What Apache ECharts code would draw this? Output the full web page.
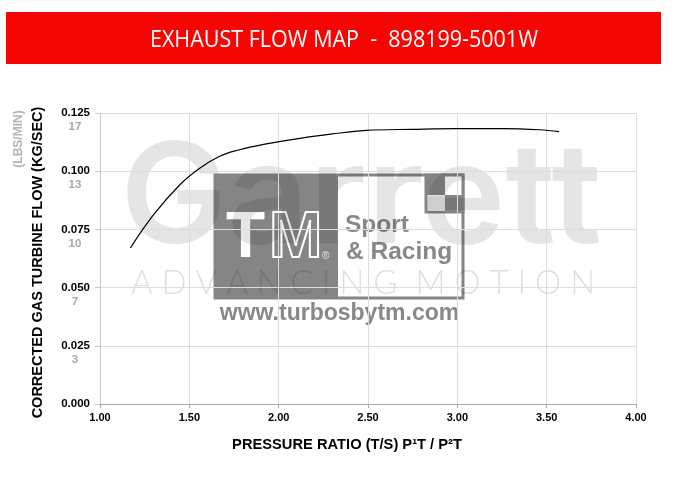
<!DOCTYPE html>
<html>
<head>
<meta charset="utf-8">
<style>html,body{margin:0;padding:0;background:#fff}#c{width:677px;height:500px}</style>
<script src="https://cdn.jsdelivr.net/npm/echarts@6/dist/echarts.min.js"></script>
</head>
<body>
<div id="c"></div>
<script>
const pressureRatio = [1.17,1.30,1.447,1.56,1.67,1.765,1.93,2.12,2.30,2.49,2.75,3.00,3.26,3.46,3.57];
const turbineFlow = [0.067,0.0813,0.0942,0.1014,0.1064,0.1089,0.1117,0.1141,0.116,0.1175,0.118,0.1183,0.1183,0.1178,0.117];
const kgTicks = ['0.000','0.025','0.050','0.075','0.100','0.125'];
const lbsTicks = ['','3','7','10','13','17'];
const titleText = 'EXHAUST FLOW MAP  -  898199-5001W';
const xName = 'PRESSURE RATIO (T/S) P¹T / P²T';
const yName = 'CORRECTED GAS TURBINE FLOW (KG/SEC)';
const yName2 = '(LBS/MIN)';

const chart = echarts.init(document.getElementById('c'), null, {renderer:'canvas'});
const sans = '"Liberation Sans", Arial, sans-serif';
const grey = '#888888';
const R = (x,y,w,h,fill,stroke,lw) => ({type:'rect',silent:true,z:-10,shape:{x,y,width:w,height:h},style:{fill:fill||'transparent',stroke:stroke||null,lineWidth:lw||0}});
const T = (x,y,text,font,size,weight,fill,align,extra) => Object.assign({type:'text',silent:true,z:-10,x,y,style:Object.assign({text,fontFamily:font,fontSize:size,fontWeight:weight,fill,align:align||'left',verticalAlign:'middle'},extra||{})});

const graphics = [
  // header
  R(6,12,655,52,'#f60505'),
  Object.assign(T(344,40,titleText,'"Open Sans"',21.5,'normal','#ffffff','center'),{scaleY:1.12}),
  // logo
  R(215,175,248,123,'#ffffff','#858585',3),
  R(215,175,123,123,'#858585'),
  R(426,175,37,37,'#ffffff','#858585',3),
  R(426,176,19,19,'#858585'),
  R(445,195,18,18,'#858585'),
  R(428,196,17,15,'#e6e6e6'),
  T(226,239,'T',sans,64,'bold','#ffffff'),
  T(269,239,'M',sans,64,'bold','transparent','left',{stroke:'#ffffff',lineWidth:2}),
  T(322,256,'®',sans,10,'normal','#e6e6e6'),
  T(345,225,'Sport',sans,24.5,'bold',grey),
  T(346,252,'& Racing',sans,24.5,'bold',grey),
  T(339.5,314,'www.turbosbytm.com',sans,23,'bold',grey,'center'),
  // Garrett watermark
  Object.assign(T(361,201,'Garrett','Inter',140,'600','rgba(0,0,0,0.10)','center'),{scaleX:1.02}),
  T(363,283,'A D V A N C I N G  M O T I O N','Lato',33,'300','rgba(0,0,0,0.13)','center'),
  // secondary axis title
  Object.assign(T(18.5,139,yName2,sans,12,'bold','#b4b4b4','center'),{rotation:Math.PI/2})
];

chart.setOption({
  animation:false,
  backgroundColor:'#fff',
  graphic:graphics,
  grid:{left:100,top:113,width:536,height:291,containLabel:false},
  xAxis:{
    type:'value',min:1,max:4,interval:0.5,
    name:xName,nameLocation:'middle',nameGap:33,
    nameTextStyle:{fontFamily:sans,fontWeight:'bold',fontSize:14.7,color:'#000',padding:[0,42,0,0]},
    axisLine:{onZero:false,lineStyle:{color:'#aaaaaa',width:1}},
    axisTick:{show:true,length:4,lineStyle:{color:'#aaaaaa'}},
    axisLabel:{fontFamily:sans,fontWeight:'bold',fontSize:11,color:'#000',margin:8,formatter:v=>v.toFixed(2)},
    splitLine:{show:true,lineStyle:{color:'#dddddd',width:1}}
  },
  yAxis:[{
    type:'value',min:0,max:0.125,interval:0.025,
    name:yName,nameLocation:'middle',nameGap:55,
    nameTextStyle:{fontFamily:sans,fontWeight:'bold',fontSize:14.5,color:'#000',padding:[0,8,0,0]},
    axisLine:{show:true,onZero:false,lineStyle:{color:'#c8c8c8',width:1}},
    axisTick:{show:true,length:5,lineStyle:{color:'#c8c8c8'}},
    axisLabel:{fontFamily:sans,fontWeight:'bold',fontSize:11.5,color:'#000',margin:10,
      formatter:(v)=>kgTicks[Math.round(v/0.025)]},
    splitLine:{show:true,lineStyle:{color:'#dddddd',width:1}}
  },{
    type:'value',min:0,max:0.125,interval:0.025,position:'left',
    axisLine:{show:false},axisTick:{show:false},splitLine:{show:false},
    axisLabel:{fontFamily:sans,fontWeight:'bold',fontSize:11.5,color:'#a8a8a8',margin:25,align:'center',lineHeight:14,
      formatter:(v)=>{const s=lbsTicks[Math.round(v/0.025)];return s?'\n\n'+s:'';}}
  }],
  series:[{
    type:'line',smooth:0.4,symbol:'none',
    lineStyle:{color:'#000',width:1.2},
    data:pressureRatio.map((x,i)=>[x,turbineFlow[i]])
  }]
});
</script>
</body>
</html>
